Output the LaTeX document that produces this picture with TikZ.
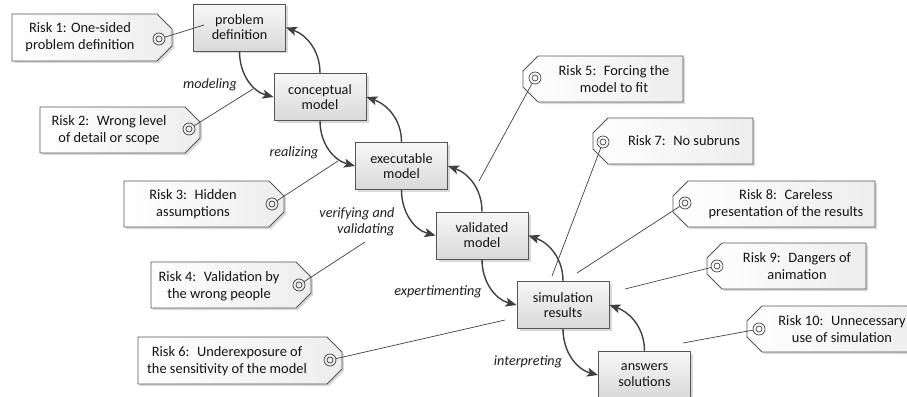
\documentclass[tikz,border=0pt]{standalone}
\usepackage{fontspec}
\setmainfont{Carlito}
\usetikzlibrary{arrows.meta,shadows}
\definecolor{linec}{HTML}{404040}
\definecolor{boxborder}{HTML}{555555}
% right-pointing tag: L, T, R, B (pixels, y downwards)
\newcommand\tagrpath[4]{(#1,-#2) -- ({#3-15},-#2) -- (#3,{-#2-15}) -- (#3,{-#4+15}) -- ({#3-15},-#4) -- (#1,-#4) -- cycle}
% left-pointing tag: tip L, T, R, B
\newcommand\taglpath[4]{(#1,{-#2-15}) -- ({#1+15},-#2) -- (#3,-#2) -- (#3,-#4) -- ({#1+15},-#4) -- (#1,{-#4+15}) -- cycle}
\begin{document}
\begin{tikzpicture}[x=1pt,y=1pt,
  font=\fontsize{14.4}{15.5}\selectfont,
  box/.style={draw=boxborder, line width=0.9pt, top color=gray!6, bottom color=gray!30,
    minimum width=92pt, minimum height=47pt, align=center, inner sep=0pt, text=black!92,
    font=\fontsize{14.2}{15.2}\selectfont,
    drop shadow={shadow xshift=2.5pt, shadow yshift=-2.5pt, opacity=0.3}},
  flow/.style={draw=linec, line width=1.4pt, -{Stealth[length=11pt,width=9pt,inset=2.5pt]}},
  lab/.style={font=\fontsize{14.2}{15.5}\selectfont\itshape, text=black!88},
  conn/.style={draw=linec, line width=0.7pt},
  ring/.style={circle, draw=linec, line width=0.7pt, minimum size=12pt, inner sep=0pt,
    path picture={\draw[linec, line width=0.7pt] (path picture bounding box.center) circle (3pt);}},
  tagbox/.style={draw=boxborder, line width=0.8pt, left color=white, right color=gray!14},
  tagshadow/.style={fill=gray!30},
  tagtext/.style={align=center, text=black!92, inner sep=0pt, font=\fontsize{14.4}{16.8}\selectfont}
]
\useasboundingbox (0,0) rectangle (907,-396);

% ---- tags (shapes) ----
\fill[tagshadow,xshift=2pt,yshift=-2pt] \tagrpath{12}{14}{172}{61};
\draw[tagbox] \tagrpath{12}{14}{172}{61};
\fill[tagshadow,xshift=2pt,yshift=-2pt] \tagrpath{40}{107}{200}{153};
\draw[tagbox] \tagrpath{40}{107}{200}{153};
\fill[tagshadow,xshift=2pt,yshift=-2pt] \tagrpath{124}{181}{284}{227};
\draw[tagbox] \tagrpath{124}{181}{284}{227};
\fill[tagshadow,xshift=2pt,yshift=-2pt] \tagrpath{151}{262}{311}{308};
\draw[tagbox] \tagrpath{151}{262}{311}{308};
\fill[tagshadow,xshift=2pt,yshift=-2pt] \tagrpath{138}{337}{342}{384};
\draw[tagbox] \tagrpath{138}{337}{342}{384};
\fill[tagshadow,xshift=2pt,yshift=-2pt] \taglpath{523}{56}{683}{102};
\draw[tagbox] \taglpath{523}{56}{683}{102};
\fill[tagshadow,xshift=2pt,yshift=-2pt] \taglpath{593}{118}{753}{164};
\draw[tagbox] \taglpath{593}{118}{753}{164};
\fill[tagshadow,xshift=2pt,yshift=-2pt] \taglpath{673}{181}{875}{227};
\draw[tagbox] \taglpath{673}{181}{875}{227};
\fill[tagshadow,xshift=2pt,yshift=-2pt] \taglpath{707}{243}{866}{289};
\draw[tagbox] \taglpath{707}{243}{866}{289};
\fill[tagshadow,xshift=2pt,yshift=-2pt] \taglpath{747}{306}{925}{352};
\draw[tagbox] \taglpath{747}{306}{925}{352};

% ---- tag texts ----
\node[tagtext] (t1) at (80,-37) {Risk 1: One-sided\\problem definition};
\node[tagtext] (t2) at (109,-130) {Risk 2:~ Wrong level\\of detail or scope};
\node[tagtext] (t3) at (193,-204) {Risk 3:~ Hidden\\assumptions};
\node[tagtext] (t4) at (219,-286) {Risk 4:~ Validation by\\the wrong people};
\node[tagtext] (t6) at (227,-361) {Risk 6:~ Underexposure of\\the sensitivity of the model};
\node[tagtext] (t5) at (614,-79) {Risk 5:~ Forcing the\\model to fit};
\node[tagtext] (t7) at (684,-141) {Risk 7:~ No subruns};
\node[tagtext] (t8) at (786,-204) {Risk 8:~ Careless\\presentation of the results};
\node[tagtext] (t9) at (797,-266) {Risk 9:~ Dangers of\\animation};
\node[tagtext] (t10) at (842,-329) {Risk 10:~ Unnecessary\\use of simulation};

% ---- rings ----
\node[ring] (r1) at (159,-39) {};
\node[ring] (r2) at (189,-129) {};
\node[ring] (r3) at (272,-204) {};
\node[ring] (r4) at (299,-285) {};
\node[ring] (r6) at (330,-360) {};
\node[ring] (r5) at (535,-78) {};
\node[ring] (r7) at (603,-142) {};
\node[ring] (r8) at (685,-203) {};
\node[ring] (r9) at (717,-266) {};
\node[ring] (r10) at (759,-329) {};

% ---- connector ends ----
\coordinate (e1) at (204,-25);
\coordinate (e2) at (253,-89);
\coordinate (e3) at (338,-161);
\coordinate (e4) at (365,-242);
\coordinate (e6) at (505,-320);
\coordinate (e5) at (479,-181);
\coordinate (e7) at (552,-276);
\coordinate (e8) at (577,-273);
\coordinate (e9) at (625,-289);
\coordinate (e10) at (683,-343);

% ---- main boxes ----
\node[box] (pd) at (239.5,-27.5) {problem\\definition};
\node[box] (cm) at (320,-97) {conceptual\\model};
\node[box] (em) at (401.5,-166) {executable\\model};
\node[box] (vm) at (482,-235.5) {validated\\model};
\node[box] (sr) at (563,-305) {simulation\\results};
\node[box] (as) at (644.5,-375) {answers\\solutions};

% ---- connectors ----
\foreach \i in {1,2,3,4,5,6,7,8,9,10} {\draw[conn] (r\i) -- (e\i);}

% ---- flow arrows ----
\draw[flow] (pd.south) to[out=-90,in=165] (cm.west);
\draw[flow] (cm.south) to[out=-90,in=165] (em.west);
\draw[flow] (em.south) to[out=-90,in=165] (vm.west);
\draw[flow] (vm.south) to[out=-90,in=165] (sr.west);
\draw[flow] (sr.south) to[out=-90,in=165] (as.west);
\draw[flow] (cm.north) to[out=90,in=-20] (pd.east);
\draw[flow] (em.north) to[out=90,in=-20] (cm.east);
\draw[flow] (vm.north) to[out=90,in=-20] (em.east);
\draw[flow] (sr.north) to[out=90,in=-20] (vm.east);
\draw[flow] (as.north) to[out=90,in=-20] (sr.east);

% ---- labels ----
\node[lab] (l1) at (210,-85) {modeling};
\node[lab] (l2) at (294,-153) {realizing};
\node[lab, align=right, anchor=east] (l3) at (398,-222) {verifying and\\validating};
\node[lab] (l4) at (438,-292) {expertimenting};
\node[lab] (l5) at (528,-362) {interpreting};
\end{tikzpicture}
\end{document}
